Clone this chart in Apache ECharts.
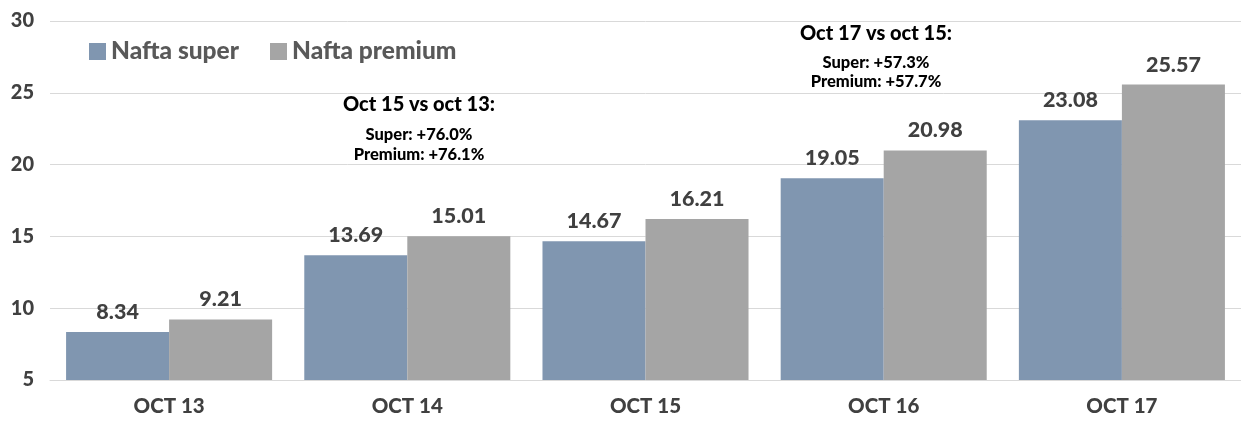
<!DOCTYPE html>
<html><head><meta charset="utf-8">
<script src="https://cdn.jsdelivr.net/npm/echarts@6/dist/echarts.min.js"></script>
<style>html,body{margin:0;padding:0;background:#fff}#c{width:1241px;height:422px}</style>
</head><body><div id="c"></div>
<script>
const categories = ['OCT 13','OCT 14','OCT 15','OCT 16','OCT 17'];
const superValues = [8.34, 13.69, 14.67, 19.05, 23.08];
const premiumValues = [9.21, 15.01, 16.21, 20.98, 25.57];
const seriesNames = ['Nafta super','Nafta premium'];
const note1 = ['Oct 15 vs oct 13:', 'Super: +76.0%', 'Premium: +76.1%'];
const note2 = ['Oct 17 vs oct 15:', 'Super: +57.3%', 'Premium: +57.7%'];

const FONT = 'Lato, "Open Sans", sans-serif';
const W = 900;
const chart = echarts.init(document.getElementById('c'));
const lbl = {show:true, position:'top', distance:9, fontFamily:FONT, fontWeight:W, fontSize:21.5, color:'#404040',
  formatter: p => p.value.toFixed(2)};
chart.setOption({
  animation:false,
  color:['#8096B0','#A5A5A5'],
  legend:{left:84, top:34, itemWidth:17, itemHeight:17, itemGap:31, icon:'rect',
    textStyle:{fontFamily:FONT, fontWeight:W, fontSize:24.5, color:'#595959'}, data:seriesNames},
  grid:{left:50, right:0, top:21, bottom:42, containLabel:false},
  xAxis:{type:'category', data:categories, axisTick:{show:false},
    axisLine:{lineStyle:{color:'#d9d9d9'}},
    axisLabel:{fontFamily:FONT, fontWeight:W, fontSize:20.5, color:'#404040', margin:16}},
  yAxis:{type:'value', min:5, max:30, interval:5,
    axisLabel:{fontFamily:FONT, fontWeight:W, fontSize:20, color:'#404040', margin:16},
    splitLine:{lineStyle:{color:'#d9d9d9'}}},
  series:[
    {name:seriesNames[0], type:'bar', data:superValues, barGap:'0%', barCategoryGap:'13.5%', label:lbl},
    {name:seriesNames[1], type:'bar', data:premiumValues, barGap:'0%', barCategoryGap:'13.5%', label:lbl}
  ]
});
const g = [];
[[note1, 419, 94, 135, 155],[note2, 876, 23, 63, 82]].forEach(([lines, cx, y0, c1, c2])=>{
  const items = [
    {text:lines[0], size:20, y:y0},
    {text:lines[1], size:16.5, y:c1-10},
    {text:lines[2], size:16.5, y:c2-10}
  ];
  items.forEach(it=>g.push({type:'text', x:cx, y:it.y, z:10,
    style:{text:it.text, fontFamily:FONT, fontWeight:W, fontSize:it.size, fill:'#000', align:'center', verticalAlign:'top',
      backgroundColor:'#fff', padding:[1,2]}}));
});
chart.setOption({graphic:g});
</script></body></html>
